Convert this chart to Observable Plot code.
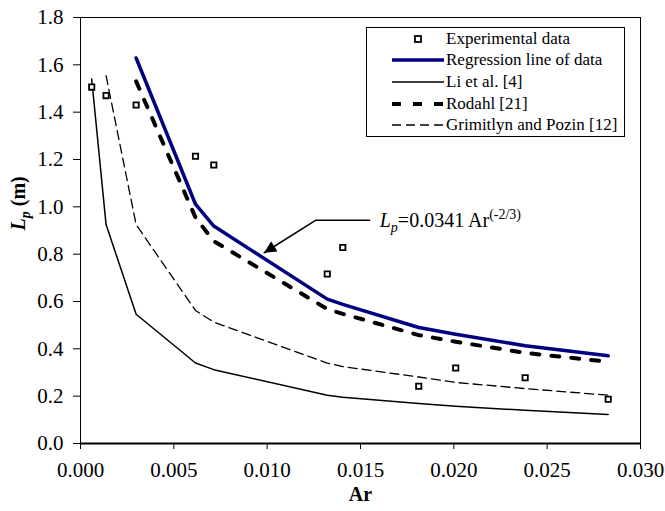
<!DOCTYPE html>
<html><head><meta charset="utf-8">
<script src="https://cdn.jsdelivr.net/npm/d3@7"></script>
<script src="https://cdn.jsdelivr.net/npm/@observablehq/plot@0.6"></script>
<style>
body{margin:0;background:#fff;}
#wrap{position:relative;width:665px;height:511px;font-family:"Liberation Serif","Times New Roman",serif;}
#legend{position:absolute;left:366px;top:27px;width:257px;height:108px;border:1px solid #000;background:#fff;font-size:17px;color:#000;}
.row{position:absolute;left:0;height:22px;display:flex;align-items:center;}
.row svg{width:52px;height:22px;margin-left:25px;flex:none;}
.row span{margin-left:2px;white-space:nowrap;line-height:22px;}
</style></head>
<body>
<div id="wrap"></div>
<script>
// Data
const ar      = [0.0006, 0.00137, 0.00298, 0.00616, 0.00714, 0.01322, 0.01405, 0.01812, 0.0201, 0.02382, 0.02827];
const lpExp   = [1.506, 1.470, 1.430, 1.214, 1.177, 0.716, 0.828, 0.242, 0.319, 0.278, 0.187];
const lpReg   = [null, null, 1.629, 1.011, 0.919, 0.610, 0.588, 0.490, 0.462, 0.413, 0.371];
const lpLi    = [1.540, 0.925, 0.546, 0.340, 0.312, 0.204, 0.195, 0.169, 0.157, 0.140, 0.123];
const lpRod   = [null, null, 1.530, 0.955, 0.855, 0.568, 0.548, 0.458, 0.430, 0.383, 0.345];
const lpGri   = [null, 1.554, 0.925, 0.562, 0.513, 0.340, 0.325, 0.281, 0.258, 0.232, 0.204];
const xTicks  = [0, 0.005, 0.010, 0.015, 0.020, 0.025, 0.030];
const yTicks  = [0, 0.2, 0.4, 0.6, 0.8, 1.0, 1.2, 1.4, 1.6, 1.8];
const seriesNames = ["Experimental data", "Regression line of data", "Li et al. [4]", "Rodahl [21]", "Grimitlyn and Pozin [12]"];
// annotation: label anchor, elbow, arrow tip (data coords)
const annoX = [0.01549, 0.01259, 0.00984];
const annoY = [0.943, 0.943, 0.806];
const annoText = "Lp=0.0341 Ar(-2/3)";

const toRows = (vals) => ar.map((x, i) => ({x, y: vals[i]})).filter(d => d.y != null);
const expRows = toRows(lpExp);
const anno = annoX.map((x, i) => ({x, y: annoY[i]}));

const plot = Plot.plot({
  width: 665, height: 511,
  marginLeft: 80, marginRight: 25, marginTop: 17, marginBottom: 68,
  style: {fontFamily: "Liberation Serif, 'Times New Roman', serif", fontSize: "20px", background: "white", color: "black", overflow: "visible"},
  x: {domain: [0, 0.03]},
  y: {domain: [0, 1.8]},
  marks: [
    Plot.frame({stroke: "black", strokeWidth: 1}),
    Plot.axisX({ticks: xTicks, tickFormat: d3.format(".3f"), tickSize: 6, tickPadding: 13, label: null, fontSize: 21}),
    Plot.axisY({ticks: yTicks, tickFormat: d3.format(".1f"), tickSize: 7, tickPadding: 10, label: null, fontSize: 21}),
    Plot.ruleY([0], {stroke: "black", strokeWidth: 2.2}),
    Plot.line(toRows(lpLi), {x: "x", y: "y", stroke: "black", strokeWidth: 1.5}),
    Plot.line(toRows(lpGri), {x: "x", y: "y", stroke: "black", strokeWidth: 1.3, strokeDasharray: "9,5"}),
    Plot.line(toRows(lpRod), {x: "x", y: "y", stroke: "black", strokeWidth: 4, strokeDasharray: "8,12"}),
    Plot.line(toRows(lpReg), {x: "x", y: "y", stroke: "#000080", strokeWidth: 3.5}),
    Plot.dot(expRows, {x: "x", y: "y", symbol: "square", r: 3, stroke: "black", strokeWidth: 1.8, fill: "white"}),
    Plot.line(anno, {x: "x", y: "y", stroke: "black", strokeWidth: 1.5}),
    Plot.text([annoText], {x: 0.01603, y: 0.914, textAnchor: "start", lineAnchor: "bottom", fontSize: 20}),
    Plot.text(["Ar"], {frameAnchor: "bottom", dy: 57, fontWeight: "bold", fontSize: 20}),
    Plot.text(["Lp (m)"], {frameAnchor: "left", dx: -62, rotate: -90, fontWeight: "bold", fontSize: 20})
  ]
});

document.getElementById("wrap").appendChild(plot);
const svg = d3.select(plot);

// Filled arrowhead on the annotation line (last line mark)
const defs = svg.insert("defs", ":first-child");
defs.append("marker").attr("id", "anno-arrow").attr("viewBox", "0 0 10 10")
  .attr("refX", 10).attr("refY", 5).attr("markerUnits", "userSpaceOnUse")
  .attr("markerWidth", 16).attr("markerHeight", 12).attr("orient", "auto")
  .append("path").attr("d", "M0,0L10,5L0,10Z").attr("fill", "black");
const lineGroups = svg.selectAll('g[aria-label="line"]').nodes();
d3.select(lineGroups[lineGroups.length - 1]).selectAll("path").attr("marker-end", "url(#anno-arrow)");

// rich text: italics, subscripts, superscripts
svg.selectAll("text").each(function() {
  const t = d3.select(this);
  const s = this.textContent;
  if (s === annoText) {
    t.text(null);
    t.append("tspan").attr("font-style", "italic").text("L");
    t.append("tspan").attr("font-style", "italic").attr("font-size", 14).attr("dy", 5).text("p");
    t.append("tspan").attr("dy", -5).text("=0.0341 Ar");
    t.append("tspan").attr("font-size", 14).attr("dy", -8).text("(-2/3)");
  } else if (s === "Lp (m)") {
    t.text(null);
    t.append("tspan").attr("font-style", "italic").text("L");
    t.append("tspan").attr("font-style", "italic").attr("font-size", 14).attr("dy", 5).text("p");
    t.append("tspan").attr("dy", -5).text(" (m)");
  }
});

// Legend (HTML overlay)
const legend = d3.select("#wrap").append("div").attr("id", "legend");
const samples = [
  `<rect x="23" y="8" width="6" height="6" fill="white" stroke="black" stroke-width="1.8"/>`,
  `<line x1="0" x2="52" y1="11" y2="11" stroke="#000080" stroke-width="3.5"/>`,
  `<line x1="0" x2="52" y1="11" y2="11" stroke="black" stroke-width="1.5"/>`,
  `<line x1="0" x2="52" y1="11" y2="11" stroke="black" stroke-width="4" stroke-dasharray="9,12"/>`,
  `<line x1="0" x2="52" y1="11" y2="11" stroke="black" stroke-width="1.3" stroke-dasharray="9,5"/>`
];
const rowCenters = [10.8, 32.3, 54, 75.6, 97.3];
seriesNames.forEach((name, i) => {
  const row = legend.append("div").attr("class", "row").style("top", (rowCenters[i] - 11) + "px");
  row.append("svg").attr("viewBox", "0 0 52 22").html(samples[i]);
  row.append("span").text(name);
});
</script>
</body></html>
